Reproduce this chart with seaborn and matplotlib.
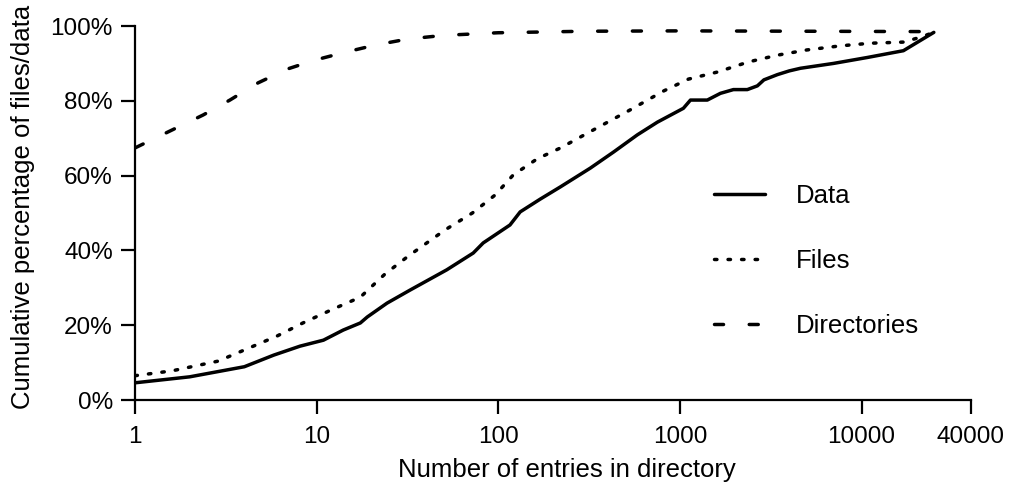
import matplotlib
matplotlib.use("Agg")
import matplotlib.pyplot as plt
import seaborn as sns
import pandas as pd

# Cumulative distributions by number of entries per directory
data_entries = [1, 2, 4, 5.8, 8.1, 10.9, 14, 17.4, 19, 24.4, 32.7, 52, 72.8, 82.6,
                116, 132, 170, 220, 321, 431, 583, 752, 1045, 1143, 1415, 1671,
                1970, 2350, 2670, 2900, 3440, 4000, 4610, 7010, 10800, 17000, 25000]
data_pct = [4.6, 6.2, 8.9, 12, 14.4, 16, 18.7, 20.6, 22.2, 25.9, 29.4, 34.8, 39.3, 42,
            46.8, 50.3, 53.7, 57, 62, 66.3, 70.9, 74.3, 78, 80.2, 80.2, 82,
            83, 83, 84, 85.6, 87, 88, 88.7, 90, 91.6, 93.4, 98.3]

files_entries = [1, 1.6, 2.87, 4.1, 6.05, 8.4, 12.3, 17.4, 23.8, 32, 51, 72, 96, 121,
                 164, 220, 342, 520, 811, 1114, 1610, 2385, 3440, 5000, 7660, 11200,
                 17000, 21100, 25000]
files_pct = [6.5, 7.8, 10.4, 13.6, 17.1, 20.6, 24.3, 27.5, 33.7, 38.5, 45.5, 50, 54.8,
             60.2, 64.5, 67.4, 72.5, 77.3, 82.6, 85.8, 87.7, 90.4, 92.2, 93.6, 94.7,
             95.4, 95.7, 97, 98.3]

dirs_entries = [1, 1.6, 2.37, 3.33, 4.76, 6.9, 9.8, 14.4, 21, 31.5, 50, 100, 300,
                1000, 25000]
dirs_pct = [67.4, 72.2, 76.2, 80.2, 84.8, 88.5, 90.9, 93, 94.9, 96.5, 97.5, 98.2,
            98.6, 98.7, 98.5]

series_names = ["Data", "Files", "Directories"]
x_ticks = [1, 10, 100, 1000, 10000, 40000]
x_tick_labels = ["1", "10", "100", "1000", "10000", "40000"]
y_ticks = [0, 20, 40, 60, 80, 100]
y_tick_labels = ["0%", "20%", "40%", "60%", "80%", "100%"]

sns.set_theme(style="ticks")
plt.rcParams["font.family"] = ["Liberation Sans", "DejaVu Sans"]
plt.rcParams["text.color"] = "black"

fig = plt.figure(figsize=(10.12, 4.88), dpi=100)
ax = fig.add_axes([0.1334, 0.1803, 0.826, 0.7664])

styles = [
    dict(linestyle="-"),
    dict(linestyle=(0, (0.7, 3.2)), dash_capstyle="round"),
    dict(linestyle=(0, (2.6, 7.4)), dash_capstyle="round"),
]
frames = [
    pd.DataFrame({"entries": data_entries, "pct": data_pct}),
    pd.DataFrame({"entries": files_entries, "pct": files_pct}),
    pd.DataFrame({"entries": dirs_entries, "pct": dirs_pct}),
]
for df, st in zip(frames, styles):
    sns.lineplot(data=df, x="entries", y="pct", ax=ax, color="black",
                 linewidth=2.5, estimator=None, sort=False, legend=False, **st)

ax.set_xscale("log")
ax.set_xlim(1, 40000)
ax.set_ylim(0, 100)
ax.set_xticks(x_ticks)
ax.set_xticklabels(x_tick_labels)
ax.xaxis.set_minor_locator(matplotlib.ticker.NullLocator())
ax.set_yticks(y_ticks)
ax.set_yticklabels(y_tick_labels)

for side in ["top", "right"]:
    ax.spines[side].set_visible(False)
for side in ["left", "bottom"]:
    ax.spines[side].set_linewidth(1.6)
    ax.spines[side].set_color("black")
ax.tick_params(axis="both", direction="out", length=10, width=1.6, colors="black",
               labelsize=17.5)
ax.tick_params(axis="x", pad=9)
ax.tick_params(axis="y", pad=6)

ax.set_xlabel("Number of entries in directory", fontsize=18.5, color="black")
ax.set_ylabel("Cumulative percentage of files/data", fontsize=18.5, color="black")
ax.xaxis.set_label_coords(0.517, -0.155)
ax.yaxis.set_label_coords(-0.12, 0.515)

handles = ax.get_lines()[:3]
leg = ax.legend(handles, series_names, loc="upper left",
                bbox_to_anchor=(0.665, 0.64), frameon=False, fontsize=18.5,
                handlelength=2.0, handletextpad=1.2, labelspacing=1.6,
                labelcolor="black")

fig.savefig("out.png", dpi=100, facecolor="white")
